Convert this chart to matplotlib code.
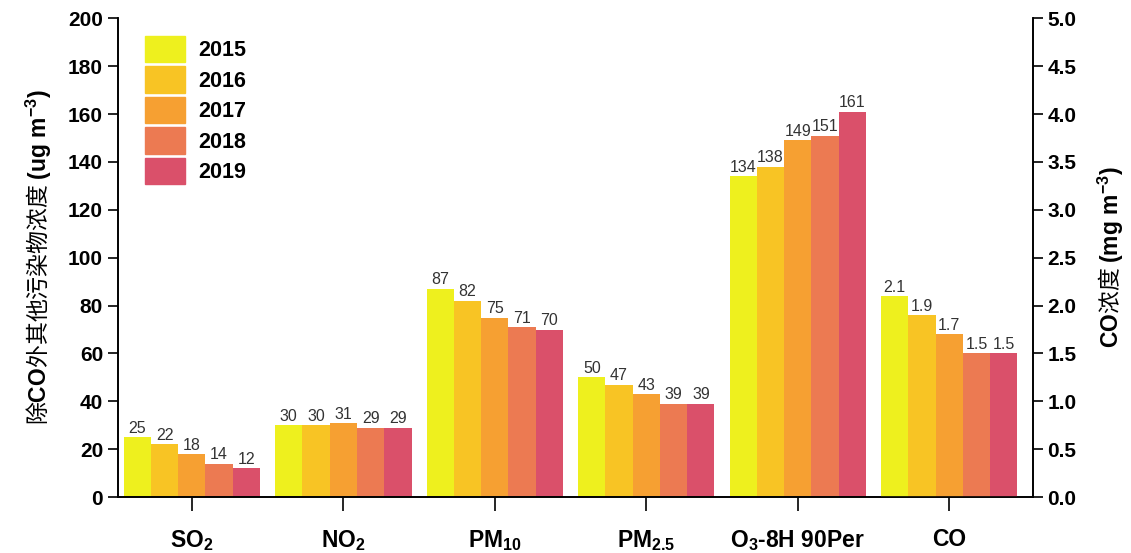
import numpy as np
import matplotlib
matplotlib.use("Agg")
import matplotlib.pyplot as plt
from matplotlib.patches import Patch

plt.rcParams['font.family'] = ['Liberation Sans', 'Noto Sans CJK SC', 'DejaVu Sans']
plt.rcParams['mathtext.fontset'] = 'custom'
plt.rcParams['mathtext.rm'] = 'Liberation Sans'
plt.rcParams['mathtext.bf'] = 'Liberation Sans:bold'
plt.rcParams['mathtext.it'] = 'Liberation Sans:italic'

pollutants = [r"$\mathbf{SO_2}$", r"$\mathbf{NO_2}$", r"$\mathbf{PM_{10}}$",
              r"$\mathbf{PM_{2.5}}$", r"$\mathbf{O_3}$-8H 90Per", "CO"]
years = ["2015", "2016", "2017", "2018", "2019"]
colors = ["#EEF01E", "#F8C424", "#F6A032", "#EC7A52", "#DA506A"]

# ug/m3, columns are the five years
so2 = [25, 22, 18, 14, 12]
no2 = [30, 30, 31, 29, 29]
pm10 = [87, 82, 75, 71, 70]
pm25 = [50, 47, 43, 39, 39]
o3 = [134, 138, 149, 151, 161]
# mg/m3 on the right axis
co = [2.1, 1.9, 1.7, 1.5, 1.5]
co_labels = ["2.1", "1.9", "1.7", "1.5", "1.5"]

left_data = [so2, no2, pm10, pm25, o3]

fig = plt.figure(figsize=(11.31, 5.53), dpi=100)
ax = fig.add_axes([0.104, 0.101, 0.809, 0.866])
ax2 = ax.twinx()

w = 0.18
offs = (np.arange(5) - 2) * w
x = np.arange(6)

for j in range(5):
    vals = [d[j] for d in left_data]
    bars = ax.bar(x[:5] + offs[j], vals, w, color=colors[j], linewidth=0)
    ax.bar_label(bars, labels=[str(v) for v in vals], fontsize=11.5, color="#333333", padding=1)
    b2 = ax2.bar(x[5] + offs[j], co[j], w, color=colors[j], linewidth=0)
    ax2.bar_label(b2, labels=[co_labels[j]], fontsize=11.5, color="#333333", padding=1)

ax.set_xlim(-0.49, 5.55)
ax.set_ylim(0, 200)
ax2.set_ylim(0, 5)
ax.set_yticks(np.arange(0, 201, 20))
ax2.set_yticks(np.arange(0, 5.01, 0.5))
ax2.set_yticklabels([f"{v:.1f}" for v in np.arange(0, 5.01, 0.5)])
ax.set_xticks(x)
ax.set_xticklabels(pollutants, fontsize=16.5, fontweight="bold")

for a in (ax, ax2):
    a.spines['top'].set_visible(False)
    for s in a.spines.values():
        s.set_linewidth(1.2)
    a.tick_params(axis='y', labelsize=15, width=1.2, length=7)
    for lab in a.get_yticklabels():
        lab.set_fontweight("bold")
ax.tick_params(axis='x', length=10, width=1.2, pad=12)

ax.set_ylabel(r"除$\mathbf{CO}$外其他污染物浓度 $\mathbf{(ug\ m^{-3})}$", fontsize=16.5,
              family="Noto Sans CJK SC", labelpad=10)
ax2.set_ylabel(r"$\mathbf{CO}$浓度 $\mathbf{(mg\ m^{-3})}$", fontsize=16.5,
               family="Noto Sans CJK SC", labelpad=14)

handles = [Patch(color=c) for c in colors]
leg = ax.legend(handles, years, loc="upper left", bbox_to_anchor=(0.013, 0.995),
                frameon=False, handlelength=1.9, handleheight=1.5,
                labelspacing=0.2, handletextpad=0.6, borderpad=0.2,
                prop={"size": 15.5, "weight": "bold"})

fig.savefig("out.png", dpi=100)
